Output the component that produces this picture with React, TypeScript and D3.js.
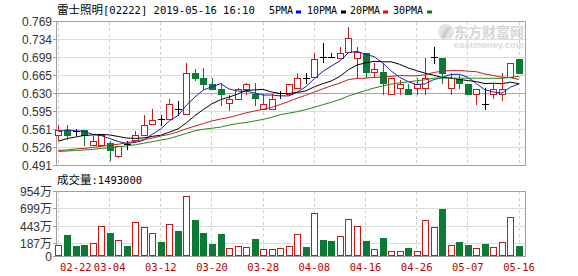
import React from 'react';
import * as d3 from 'd3';

const dates = ['02-22','02-25','02-26','02-27','02-28','03-01','03-04','03-05','03-06','03-07','03-08','03-11','03-12','03-13','03-14','03-15','03-18','03-19','03-20','03-21','03-22','03-25','03-26','03-27','03-28','03-29','04-01','04-02','04-03','04-04','04-08','04-09','04-10','04-11','04-12','04-15','04-16','04-17','04-18','04-23','04-24','04-25','04-26','04-29','04-30','05-02','05-03','05-06','05-07','05-08','05-09','05-10','05-14','05-15','05-16'];

const opens = [0.549,0.559,0.556,0.560,0.530,0.531,0.534,0.510,0.531,0.540,0.549,0.571,0.579,0.581,0.600,0.590,0.669,0.659,0.648,0.639,0.611,0.619,0.639,0.630,0.600,0.600,0.6295,0.630,0.640,0.659,0.661,0.700,0.700,0.699,0.710,0.699,0.709,0.671,0.671,0.630,0.640,0.639,0.640,0.640,0.6985,0.699,0.640,0.658,0.648,0.630,0.609,0.630,0.630,0.661,0.697];
const highs = [0.570,0.570,0.562,0.560,0.547,0.549,0.539,0.529,0.539,0.558,0.589,0.600,0.589,0.619,0.616,0.688,0.678,0.680,0.659,0.650,0.627,0.640,0.650,0.650,0.630,0.630,0.635,0.648,0.669,0.669,0.709,0.728,0.709,0.720,0.759,0.720,0.709,0.688,0.688,0.659,0.656,0.648,0.659,0.699,0.720,0.699,0.669,0.665,0.648,0.639,0.640,0.650,0.669,0.688,0.697];
const lows = [0.541,0.543,0.550,0.531,0.530,0.531,0.501,0.508,0.522,0.539,0.549,0.571,0.570,0.581,0.589,0.590,0.656,0.638,0.639,0.608,0.598,0.619,0.630,0.608,0.600,0.600,0.621,0.630,0.640,0.650,0.661,0.691,0.700,0.699,0.710,0.661,0.661,0.661,0.630,0.630,0.630,0.630,0.630,0.630,0.688,0.650,0.630,0.640,0.629,0.610,0.600,0.621,0.618,0.661,0.669];
const closes = [0.560,0.550,0.556,0.550,0.539,0.549,0.521,0.528,0.531,0.549,0.570,0.579,0.579,0.609,0.600,0.669,0.659,0.648,0.639,0.629,0.619,0.638,0.648,0.621,0.609,0.619,0.630,0.648,0.659,0.659,0.697,0.700,0.700,0.709,0.738,0.710,0.671,0.678,0.650,0.659,0.648,0.630,0.648,0.659,0.699,0.669,0.659,0.650,0.629,0.639,0.609,0.638,0.638,0.688,0.669];

// volume in 万
const volumes = [164,313,149,164,189,447,347,238,149,502,427,347,213,477,377,894,536,347,184,328,114,149,129,253,104,104,114,149,328,139,636,238,223,298,547,447,223,99,263,79,79,114,79,527,427,696,164,209,164,114,179,129,209,577,149.3];

const ma5 = [0.556,0.560,0.558,0.557,0.551,0.5488,0.543,0.5374,0.5336,0.5356,0.5398,0.5514,0.5616,0.5772,0.5874,0.6072,0.6232,0.637,0.643,0.6488,0.6388,0.6346,0.6346,0.631,0.627,0.627,0.6254,0.6254,0.633,0.643,0.6586,0.6726,0.683,0.693,0.7088,0.7114,0.7056,0.7012,0.6894,0.6736,0.6612,0.653,0.647,0.6488,0.6568,0.661,0.6668,0.6672,0.6612,0.6492,0.6372,0.633,0.6306,0.6424,0.6484];
const ma10 = [0.538,0.543,0.546,0.549,0.550,0.551,0.550,0.547,0.544,0.5433,0.5443,0.5472,0.5495,0.5554,0.5615,0.5735,0.5873,0.5993,0.6101,0.6181,0.623,0.6289,0.6358,0.637,0.6379,0.6329,0.630,0.630,0.632,0.635,0.6428,0.649,0.6542,0.663,0.6759,0.685,0.6891,0.6921,0.6912,0.6912,0.6863,0.6793,0.6741,0.6691,0.6652,0.6611,0.6599,0.6571,0.655,0.653,0.6491,0.6499,0.6489,0.6518,0.6488];
const ma20 = [0.520,0.521,0.523,0.524,0.526,0.528,0.530,0.532,0.535,0.538,0.541,0.544,0.548,0.551,0.556,0.562,0.567,0.572,0.577,0.5807,0.5837,0.5881,0.5927,0.5962,0.5997,0.6032,0.6087,0.6147,0.6211,0.6266,0.6329,0.639,0.645,0.650,0.6569,0.659,0.6596,0.6611,0.6616,0.6631,0.6646,0.6642,0.6642,0.6661,0.6706,0.6731,0.6745,0.6746,0.6731,0.6721,0.6677,0.6646,0.6615,0.6605,0.657];
const ma30 = [0.518,0.519,0.520,0.521,0.522,0.524,0.525,0.527,0.529,0.531,0.534,0.537,0.540,0.543,0.548,0.553,0.558,0.561,0.563,0.565,0.569,0.572,0.574,0.577,0.580,0.584,0.589,0.592,0.595,0.5988,0.6034,0.6084,0.6132,0.6185,0.6251,0.6305,0.6355,0.6405,0.6444,0.6481,0.6507,0.6524,0.6547,0.6564,0.6597,0.6597,0.6597,0.6597,0.6594,0.6597,0.6594,0.6594,0.6591,0.6613,0.6633];

const priceTicks = [0.769,0.734,0.699,0.665,0.630,0.595,0.561,0.526,0.491];
const volTicks = [954,699,443,187,0];
const volTickLabels = ['954万','699万','443万','187万','0'];
const xTickDates = ['02-22','03-04','03-12','03-20','03-28','04-08','04-16','04-26','05-07','05-16'];

const maSeries = [
  { name: '5PMA', values: ma5, color: '#1c1cb0', legend: '#0000ff', tx: 269, rx: 296 },
  { name: '10PMA', values: ma10, color: '#000000', legend: '#000000', tx: 307, rx: 341 },
  { name: '20PMA', values: ma20, color: '#c81e1e', legend: '#ff0000', tx: 350, rx: 383 },
  { name: '30PMA', values: ma30, color: '#1e8a1e', legend: '#008000', tx: 393, rx: 427 },
];

const RED = '#c81818';
const GREEN = '#0a7a34';
const MONO = "'DejaVu Sans Mono', 'Liberation Mono', monospace";
const CJK = "'Noto Sans CJK SC', sans-serif";
const SANS = "'Liberation Sans', Arial, sans-serif";

export default function App() {
  const left = 56.5, right = 525.5;
  const x = d3.scalePoint<string>().domain(dates).range([58.5, 519]);
  const y = d3.scaleLinear().domain([0.491, 0.769]).range([165.5, 21.5]);
  const yv = d3.scaleLinear().domain([0, 954]).range([256, 191.5]);
  const snap = (v: number) => Math.round(v - 0.5) + 0.5;

  const line = (vals: number[]) =>
    d3.line<number>().x((_, i) => x(dates[i]) as number).y((d) => y(d))(vals) || '';

  return (
    <svg width={578} height={276} style={{ position: 'absolute', left: 0, top: 0, background: '#fff' }}>
      <rect x={0} y={0} width={578} height={276} fill="#fff" />
      {/* header */}
      <text x={57} y={14} fontSize={10.5} fill="#000">
        <tspan fontFamily={CJK} fontSize={11.5}>雷士照明</tspan>
        <tspan x={103} fontFamily={MONO}>[02222] 2019-05-16 16:10</tspan>
      </text>
      {maSeries.map((m) => (
        <g key={m.name}>
          <text x={m.tx} y={14} fontFamily={MONO} fontSize={10} fill="#000">{m.name}</text>
          <rect x={m.rx} y={10.5} width={5} height={3} fill={m.legend} />
        </g>
      ))}

      {/* watermark */}
      <g opacity={0.9}>
        <circle cx={446} cy={32} r={8} fill="#e2e2e2" />
        <path d="M441,37 Q446,25 452,27 Q447,31 445,39 Z" fill="#c8c8c8" />
        <text x={454} y={36.5} fontFamily={CJK} fontWeight="bold" fontSize={14} fill="#d2d2d2">东方财富网</text>
        <text x={454} y={47.5} fontFamily={SANS} fontWeight="bold" fontSize={9} fill="#d6d6d6" textLength={70}>eastmoney.com</text>
      </g>

      {/* grid */}
      <g shapeRendering="crispEdges">
        {priceTicks.map((t, i) => (
          <line key={'pg' + i} x1={left} x2={right} y1={snap(y(t))} y2={snap(y(t))}
            stroke={t === 0.630 ? '#a8a8a8' : '#dcdcdc'} strokeWidth={1} />
        ))}
        {xTickDates.map((d) => (
          <line key={'pv' + d} x1={snap(x(d) as number)} x2={snap(x(d) as number)} y1={21.5} y2={165.5}
            stroke="#cfcfcf" strokeDasharray="3,3" />
        ))}
        {volTicks.map((t, i) => (
          <line key={'vg' + i} x1={left} x2={right} y1={snap(yv(t))} y2={snap(yv(t))} stroke="#dcdcdc" />
        ))}
        {xTickDates.map((d) => (
          <line key={'vv' + d} x1={snap(x(d) as number)} x2={snap(x(d) as number)} y1={191.5} y2={256}
            stroke="#cfcfcf" strokeDasharray="3,3" />
        ))}
        <rect x={left} y={21.5} width={right - left} height={144} fill="none" stroke="#a0a0a0" />
        <rect x={left} y={191.5} width={right - left} height={64.5} fill="none" stroke="#a0a0a0" />
        {priceTicks.map((t, i) => (
          <line key={'pt' + i} x1={53} x2={left} y1={snap(y(t))} y2={snap(y(t))} stroke="#a0a0a0" />
        ))}
        {volTicks.map((t, i) => (
          <line key={'vt' + i} x1={53} x2={left} y1={snap(yv(t))} y2={snap(yv(t))} stroke="#a0a0a0" />
        ))}
      </g>

      {/* y labels */}
      {priceTicks.map((t, i) => (
        <text key={'pl' + i} x={52} y={y(t) + 4.5} textAnchor="end" fontFamily={SANS} fontSize={12} fill="#333">
          {t.toFixed(3)}
        </text>
      ))}
      {volTicks.map((t, i) => (
        <text key={'vl' + i} x={52} y={yv(t) + 4.5} textAnchor="end" fontFamily={SANS} fontSize={12} fill="#333">
          <tspan>{volTickLabels[i].replace('万', '')}</tspan>
          {volTickLabels[i].includes('万') ? <tspan fontFamily={CJK}>万</tspan> : null}
        </text>
      ))}

      {/* x labels */}
      {xTickDates.map((d, i) => (
        <text key={'xl' + d} x={i === 0 ? 60 : (x(d) as number)} y={271} textAnchor={i === 0 ? 'start' : 'middle'}
          fontFamily={MONO} fontSize={10.5} fill="#c00000">{d}</text>
      ))}

      {/* volume label */}
      <text x={57} y={184} fontSize={10.5} fill="#000">
        <tspan fontFamily={CJK} fontSize={11.5}>成交量</tspan>
        <tspan fontFamily={MONO}>:1493000</tspan>
      </text>

      {/* candles */}
      <g shapeRendering="crispEdges">
        {dates.map((d, i) => {
          const cx = Math.round(x(d) as number);
          const o = opens[i], c = closes[i];
          const yo = y(o), yc = y(c);
          const cross = Math.abs(yo - yc) < 1;
          const up = c > o;
          const col = cross ? '#000' : up ? RED : GREEN;
          const wx = cx + 0.5;
          const top = Math.round(Math.min(yo, yc));
          const bot = Math.round(Math.max(yo, yc));
          return (
            <g key={'c' + i}>
              <line x1={wx} x2={wx} y1={Math.round(y(highs[i]))} y2={Math.round(y(lows[i])) + 1} stroke={col} />
              {cross ? (
                <line x1={cx - 3} x2={cx + 4} y1={snap(yc)} y2={snap(yc)} stroke={col} />
              ) : up ? (
                <rect x={cx - 2.5} y={top + 0.5} width={6} height={Math.max(1, bot - top)} fill="#fff" stroke={col} />
              ) : (
                <rect x={cx - 3} y={top} width={7} height={Math.max(1, bot - top + 1)} fill={col} />
              )}
            </g>
          );
        })}
      </g>

      {/* moving averages */}
      {maSeries.map((m) => (
        <path key={'ma' + m.name} d={line(m.values)} fill="none" stroke={m.color} strokeWidth={1} />
      ))}

      {/* volume bars */}
      <g shapeRendering="crispEdges">
        {dates.map((d, i) => {
          const cx = Math.round(x(d) as number);
          const up = closes[i] > opens[i];
          const top = Math.round(yv(volumes[i]));
          const h = 256 - top;
          return up ? (
            <rect key={'v' + i} x={cx - 2.5} y={top + 0.5} width={6} height={h - 1} fill="#fff" stroke={RED} />
          ) : (
            <rect key={'v' + i} x={cx - 3} y={top} width={7} height={h} fill={GREEN} />
          );
        })}
      </g>
    </svg>
  );
}
